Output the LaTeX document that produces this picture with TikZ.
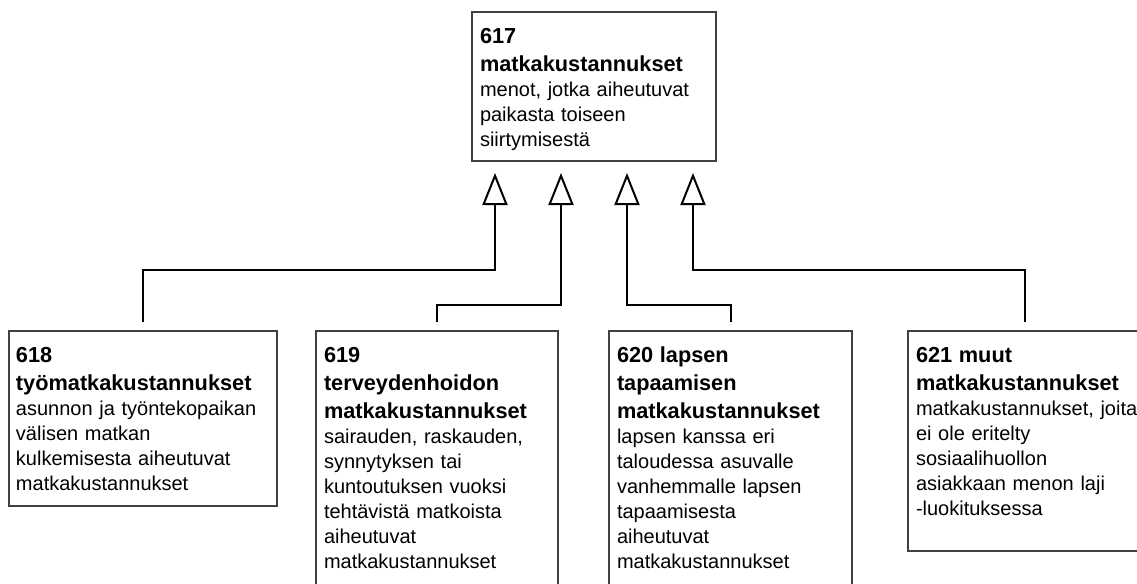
\documentclass[tikz,border=0pt]{standalone}
\usepackage{fontspec}
\setmainfont{Liberation Sans}
\usetikzlibrary{arrows.meta,calc}
\setlength{\parindent}{0pt}
\definecolor{boxc}{HTML}{404040}
\tikzset{
  box/.style={draw=boxc, line width=1.3pt, fill=white, rectangle, inner sep=0pt, outer sep=0pt, anchor=north west},
  txt/.style={anchor=north west, inner sep=0pt, outer sep=0pt, text width=300pt, align=left, font=\fontsize{15}{18.75}\selectfont},
  conn/.style={draw=black, line width=1.5pt, shorten <=6.75pt, shorten >=9pt,
    -{Triangle[open, length=24pt, width=18.75pt, line width=1.5pt]}},
}
\newcommand{\hd}[1]{{\bfseries\fontsize{16.3}{21}\selectfont #1\par}}
\begin{document}
\begin{tikzpicture}[x=0.75pt, y=-0.75pt]
\path[use as bounding box, clip] (0,0) rectangle (1137,583);
\fill[white] (0,0) rectangle (1137,583);
% boxes
\node[box, minimum width=183pt, minimum height=111.75pt] (p617) at (472,12) {};
\node[box, minimum width=201pt, minimum height=131.25pt] (c618) at (9,331) {};
\node[box, minimum width=181.5pt, minimum height=201.75pt] (c619) at (316,331) {};
\node[box, minimum width=182.25pt, minimum height=201.75pt] (c620) at (609,331) {};
\node[box, minimum width=175.5pt, minimum height=165pt] (c621) at (908,331) {};
% texts
\node[txt] (t617) at ([shift={(8,16)}]p617.north west)
  {\hd{617\\matkakustannukset}menot, jotka aiheutuvat\\paikasta toiseen\\siirtymisestä};
\node[txt] (t618) at ([shift={(7,16)}]c618.north west)
  {\hd{618\\työmatkakustannukset}asunnon ja työntekopaikan\\välisen matkan\\kulkemisesta aiheutuvat\\matkakustannukset};
\node[txt] (t619) at ([shift={(8,16)}]c619.north west)
  {\hd{619\\terveydenhoidon\\matkakustannukset}sairauden, raskauden,\\synnytyksen tai\\kuntoutuksen vuoksi\\tehtävistä matkoista\\aiheutuvat\\matkakustannukset};
\node[txt] (t620) at ([shift={(8,16)}]c620.north west)
  {\hd{620 lapsen\\tapaamisen\\matkakustannukset}lapsen kanssa eri\\taloudessa asuvalle\\vanhemmalle lapsen\\tapaamisesta\\aiheutuvat\\matkakustannukset};
\node[txt] (t621) at ([shift={(8,16)}]c621.north west)
  {\hd{621 muut\\matkakustannukset}matkakustannukset, joita\\ei ole eritelty\\sosiaalihuollon\\asiakkaan menon laji\\-luokituksessa};
% connectors
\draw[conn] (c618.north) -- ++(0,-61) -| ($(p617.south)+(-99,0)$);
\draw[conn] (c619.north) -- ++(0,-26) -| ($(p617.south)+(-33,0)$);
\draw[conn] (c620.north) -- ++(0,-26) -| ($(p617.south)+(33,0)$);
\draw[conn] (c621.north) -- ++(0,-61) -| ($(p617.south)+(99,0)$);
\end{tikzpicture}
\end{document}
